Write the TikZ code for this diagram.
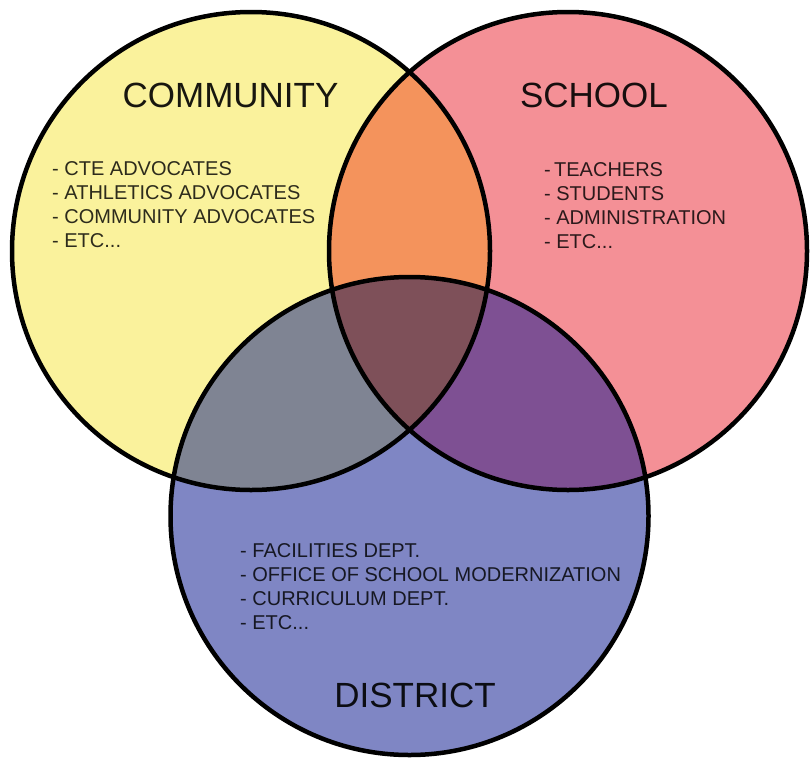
\documentclass[tikz,border=0pt]{standalone}
\usepackage{fontspec}
\setmainfont{Liberation Sans}
\definecolor{cyellow}{HTML}{FAF29C}
\definecolor{cpink}{HTML}{F49096}
\definecolor{cblue}{HTML}{7F86C4}
\definecolor{corange}{HTML}{F4935C}
\definecolor{cgray}{HTML}{7F8493}
\definecolor{cpurple}{HTML}{7E5093}
\definecolor{ccenter}{HTML}{7E5059}
\tikzset{
  ring/.style={draw=black, line width=4.5pt},
  title/.style={anchor=base, inner sep=0pt, font=\fontsize{35}{40}\selectfont, text=black, text opacity=0.9},
  items/.style={anchor=base west, inner sep=0pt, align=left, font=\fontsize{20}{24.2}\selectfont, text=black, text opacity=0.82}
}
\begin{document}
\begin{tikzpicture}[x=1pt,y=-1pt]
\useasboundingbox (0,0) rectangle (811,763);
\coordinate (cc) at (251,251);
\coordinate (sc) at (568,251);
\coordinate (dc) at (409.5,516);
\def\R{239pt}
% base fills
\fill[cyellow] (cc) circle[radius=\R];
\fill[cpink] (sc) circle[radius=\R];
\fill[cblue] (dc) circle[radius=\R];
% pairwise overlaps
\begin{scope}
  \clip (cc) circle[radius=\R];
  \fill[corange] (sc) circle[radius=\R];
  \fill[cgray] (dc) circle[radius=\R];
\end{scope}
\begin{scope}
  \clip (sc) circle[radius=\R];
  \fill[cpurple] (dc) circle[radius=\R];
\end{scope}
\begin{scope}
  \clip (cc) circle[radius=\R];
  \clip (sc) circle[radius=\R];
  \fill[ccenter] (dc) circle[radius=\R];
\end{scope}
% outlines
\draw[ring] (cc) circle[radius=\R];
\draw[ring] (sc) circle[radius=\R];
\draw[ring] (dc) circle[radius=\R];
% titles
\node[title] (tcom) at (230.5,107) {COMMUNITY};
\node[title] (tsch) at (594,107) {SCHOOL};
\node[title] (tdis) at (415,707) {DISTRICT};
% lists (anchor = baseline of the last line)
\node[items] (lcom) at (52,247.6) {- CTE ADVOCATES\\- ATHLETICS ADVOCATES\\- COMMUNITY ADVOCATES\\- ETC...};
\node[items] (lsch) at (544,248.6) {-\,TEACHERS\\- STUDENTS\\- ADMINISTRATION\\- ETC...};
\node[items] (ldis) at (240,629.6) {- FACILITIES DEPT.\\- OFFICE OF SCHOOL MODERNIZATION\\- CURRICULUM DEPT.\\- ETC...};
\end{tikzpicture}
\end{document}
